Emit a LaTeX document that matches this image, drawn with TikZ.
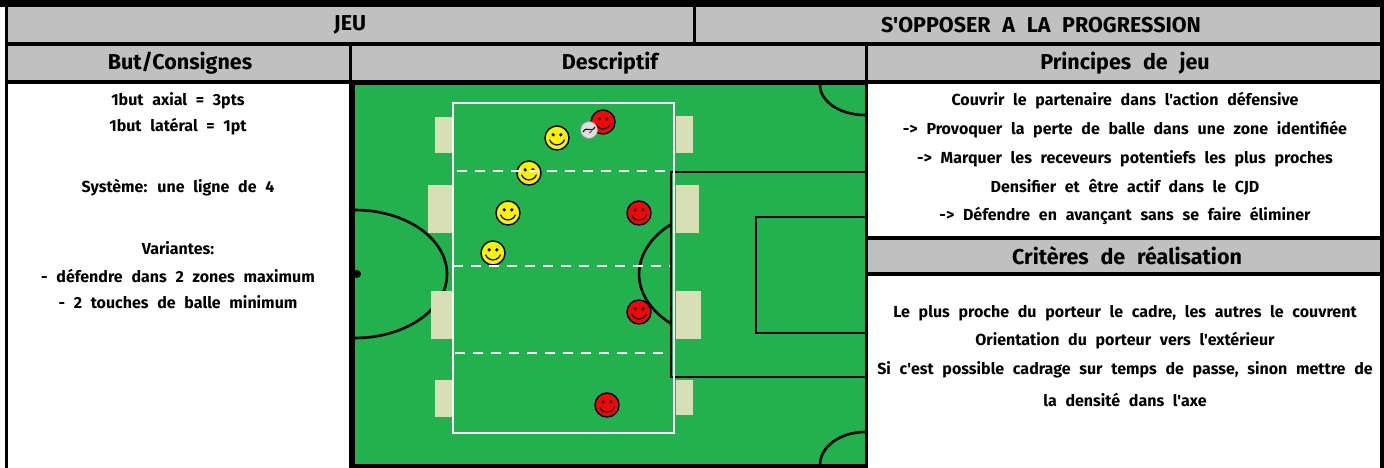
\documentclass[tikz,border=0pt]{standalone}
\usepackage{fontspec}
\setmainfont{Fira Sans}[Ligatures=TeXOff]
\newfontfamily\bodyfont{Fira Sans}[Ligatures=TeXOff,WordSpace=4.2]
\newfontfamily\headfont{Fira Sans}[Ligatures=TeXOff,WordSpace=2.3]
\usetikzlibrary{calc,positioning}
\definecolor{pitch}{RGB}{34,177,76}
\definecolor{headgray}{RGB}{192,192,192}
\definecolor{goalnet}{RGB}{216,222,182}
\begin{document}
\begin{tikzpicture}[x=1pt,y=-1pt,
		face/.style={circle,draw=black,line width=1.4pt,minimum size=24pt,inner sep=0pt},
		goal/.style={fill=goalnet,draw=none},
		pitchline/.style={draw=black,line width=2.6pt},
		body/.style={font=\bodyfont\fontsize{16}{18}\selectfont\bfseries},
		head/.style={font=\headfont\fontsize{21.5}{24}\selectfont\bfseries}]
		\fill[white] (0,0) rectangle (1384,468);
		\useasboundingbox (0,0) rectangle (1384,468);
		% table
		\fill[headgray] (8,7) rectangle (1384,42);
		\fill[headgray] (8,46) rectangle (1384,80);
		\fill[headgray] (868,240) rectangle (1384,272);
		\fill[black] (0,0) rectangle (1384,7);
		\fill[black] (5,0) rectangle (8,468);
		\fill[black] (1380,0) rectangle (1384,468);
		\fill[black] (5,42) rectangle (1384,46);
		\fill[black] (5,80) rectangle (1384,84);
		\fill[black] (693,7) rectangle (696,42);
		\fill[black] (865,42) rectangle (868,468);
		\fill[black] (865,236) rectangle (1384,240);
		\fill[black] (865,272) rectangle (1384,276);
		% pitch
		\fill[black] (349,42) rectangle (868,468);
		\fill[headgray] (352,46) rectangle (865,80);
		\fill[pitch] (355,85) rectangle (865,464);
		\draw[pitchline] (355,210) arc[start angle=-90, end angle=90, x radius=92, y radius=64];
		\fill (357,274) circle[radius=4];
		\draw[pitchline] (865,172) -- (671,172) -- (671,377) -- (865,377);
		\draw[pitchline] (865,217) -- (756,217) -- (756,333) -- (865,333);
		\draw[pitchline] (670.8,323.5) arc[start angle=132, end angle=228, x radius=96, y radius=66.6];
		\draw[pitchline] (865,115) arc[start angle=90, end angle=180, x radius=45, y radius=30];
		\draw[pitchline] (820,465) arc[start angle=180, end angle=270, x radius=45, y radius=33];
		\fill[goal] (435,117) rectangle (452,153);
		\fill[goal] (428,185) rectangle (452,233);
		\fill[goal] (431,291) rectangle (454,339);
		\fill[goal] (435,380) rectangle (452,417);
		\fill[goal] (676,116) rectangle (693,153);
		\fill[goal] (676,185) rectangle (699,233);
		\fill[goal] (676,291) rectangle (701,339);
		\fill[goal] (676,380) rectangle (693,415);
		\draw[white,line width=1.6pt] (453,103) rectangle (674,433);
		% players
		\node[face,fill=yellow] (y1) at (557,138) {};
		\node[face,fill=yellow] (y2) at (529,173) {};
		\node[face,fill=yellow] (y3) at (508,213) {};
		\node[face,fill=yellow] (y4) at (493,253) {};
		\node[face,fill=red] (r1) at (603,122) {};
		\node[face,fill=red] (r2) at (639,213) {};
		\node[face,fill=red] (r3) at (639,312) {};
		\node[face,fill=red] (r4) at (607,405) {};
		\foreach \p in {y1,y2,y3,y4,r1,r2,r3,r4}{
			\fill ($(\p)+(-3.8,-3.2)$) circle[radius=1.8];
			\fill ($(\p)+(3.8,-3.2)$) circle[radius=1.8];
			\draw[line width=1.2pt] ($(\p)+(-7.5,1.7)$) arc[start angle=160, end angle=20, radius=8];
		}
		\node[circle,fill=gray!25,draw=gray!80,line width=0.8pt,minimum size=17pt,inner sep=0pt] (ball) at (589,130) {};
		\draw[gray!20!black,line width=1.2pt] ($(ball)+(-6,2)$) .. controls ($(ball)+(-2,-5)$) and ($(ball)+(2,4)$) .. ($(ball)+(6,-3)$);
		\draw[red!80!black,line width=0.8pt] ($(ball)+(0,3)$) -- ($(ball)+(3,1)$);
		\draw[white,line width=2.6pt,dash pattern=on 10pt off 8pt] (457,171) -- (673,171);
		\draw[white,line width=2.6pt,dash pattern=on 10pt off 8pt] (453,266) -- (670,266);
		\draw[white,line width=2.6pt,dash pattern=on 10pt off 8pt] (455,353) -- (671,353);
		% texts
		\node[head] (jeu) at (350,25) {JEU};
		\node[head] (theme) at (1041,25) {S'OPPOSER A LA PROGRESSION};
		\node[head] (but) at (180,63) {But/Consignes};
		\node[head] (desc) at (610,63) {Descriptif};
		\node[head] (princ) at (1125,63) {Principes de jeu};
		\node[head] (crit) at (1127,256) {Critères de réalisation};
		\node[body] (b1) at (178,101) {1but axial = 3pts};
		\node[body] (b2) at (178,127) {1but latéral = 1pt};
		\node[body] (b3) at (178,188) {Système: une ligne de 4};
		\node[body] (b4) at (178,248) {Variantes:};
		\node[body] (b5) at (178,276) {- défendre dans 2 zones maximum};
		\node[body] (b6) at (178,302) {- 2 touches de balle minimum};
		\node[body] (p1) at (1125,101) {Couvrir le partenaire dans l'action défensive};
		\node[body] (p2) at (1125,130) {-> Provoquer la perte de balle dans une zone identifiée};
		\node[body] (p3) at (1125,159) {-> Marquer les receveurs potentiefs les plus proches};
		\node[body] (p4) at (1125,187) {Densifier et être actif dans le CJD};
		\node[body] (p5) at (1125,216) {-> Défendre en avançant sans se faire éliminer};
		\node[body] (c1) at (1125,313) {Le plus proche du porteur le cadre, les autres le couvrent};
		\node[body] (c2) at (1125,341) {Orientation du porteur vers l'extérieur};
		\node[body] (c3) at (1125,370) {Si c'est possible cadrage sur temps de passe, sinon mettre de};
		\node[body] (c4) at (1125,400) {la densité dans l'axe};
\end{tikzpicture}
\end{document}
